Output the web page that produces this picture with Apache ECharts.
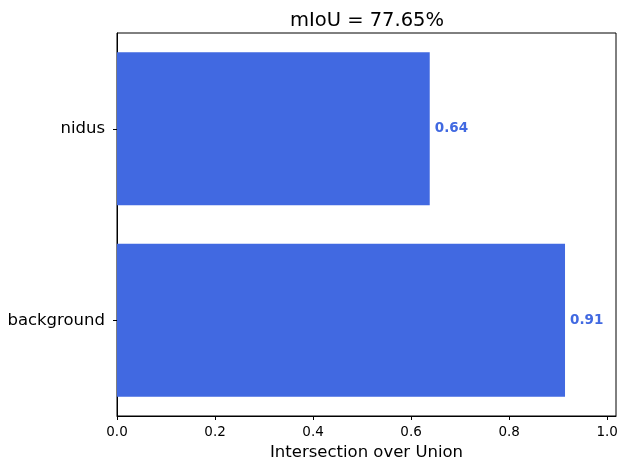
<!DOCTYPE html>
<html>
<head>
<meta charset="utf-8">
<script src="https://cdn.jsdelivr.net/npm/echarts@6/dist/echarts.min.js"></script>
<style>html,body{margin:0;padding:0;background:#fff;}#c{width:629px;height:470px;}</style>
</head>
<body>
<div id="c"></div>
<script>
const categories = ['background', 'nidus'];
const iouValues = [0.914, 0.638];
const xTicks = [0.0, 0.2, 0.4, 0.6, 0.8, 1.0];
const titleText = 'mIoU = 77.65%';
const xAxisName = 'Intersection over Union';

const chart = echarts.init(document.getElementById('c'), null, {renderer: 'canvas'});
const font = 'DejaVu Sans';
chart.setOption({
  animation: false,
  backgroundColor: '#ffffff',
  title: {
    text: titleText,
    left: 285, top: 6,
    textStyle: {fontFamily: font, fontSize: 19.5, fontWeight: 'normal', color: '#000'}
  },
  grid: {left: 117, right: 13, top: 33, bottom: 54, show: true, borderColor: '#000', borderWidth: 1, containLabel: false},
  xAxis: {
    type: 'value', min: 0, max: 1.018, interval: 0.2,
    name: xAxisName, nameLocation: 'middle', nameGap: 28,
    nameTextStyle: {fontFamily: font, fontSize: 16.5, color: '#000'},
    axisLine: {show: true, lineStyle: {color: '#000', width: 1}},
    axisTick: {show: true, length: 4, lineStyle: {color: '#000'}},
    axisLabel: {
      fontFamily: font, fontSize: 13.5, color: '#000', margin: 9,
      formatter: function (v) { return xTicks.some(t => Math.abs(t - v) < 1e-9) ? v.toFixed(1) : ''; },
      showMaxLabel: false
    },
    splitLine: {show: false}
  },
  yAxis: {
    type: 'category', data: categories,
    axisLine: {show: true, lineStyle: {color: '#000', width: 1}},
    axisTick: {show: true, alignWithLabel: true, length: 4, lineStyle: {color: '#000'}},
    axisLabel: {fontFamily: font, fontSize: 16.5, color: '#000', margin: 12},
    splitLine: {show: false}
  },
  series: [{
    type: 'bar',
    data: iouValues,
    barCategoryGap: '20%',
    itemStyle: {color: '#4169E1'},
    label: {
      show: true, position: 'right', distance: 5,
      fontFamily: font, fontSize: 13.5, fontWeight: 'bold', color: '#4169E1',
      formatter: function (p) { return p.value.toFixed(2); }
    }
  }]
});
</script>
</body>
</html>
